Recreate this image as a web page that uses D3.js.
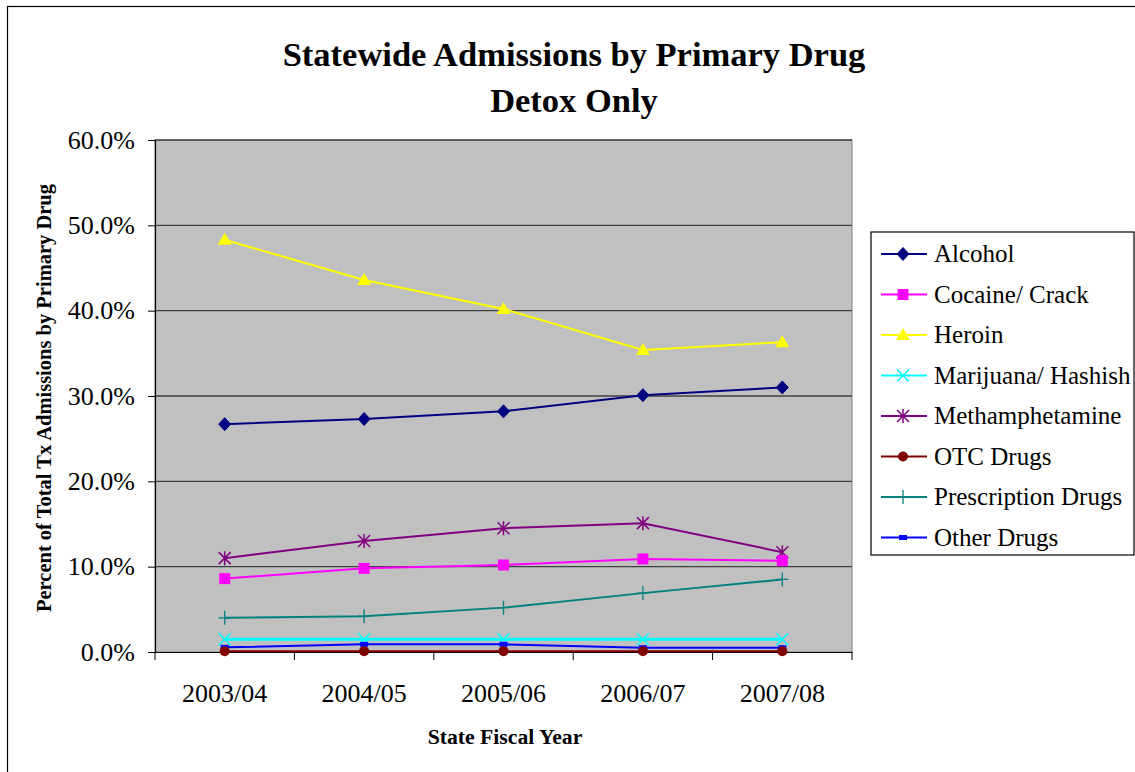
<!DOCTYPE html>
<html><head><meta charset="utf-8">
<script src="https://cdn.jsdelivr.net/npm/d3@7"></script>
<style>body{margin:0;background:#fff}svg text{font-family:"Liberation Serif","Times New Roman",serif}</style>
</head><body>
<svg id="c" width="1135" height="772"></svg>
<script>
const categories = ["2003/04","2004/05","2005/06","2006/07","2007/08"];
const seriesNames = ["Alcohol","Cocaine/ Crack","Heroin","Marijuana/ Hashish","Methamphetamine","OTC Drugs","Prescription Drugs","Other Drugs"];
const alcohol = [26.7,27.3,28.2,30.1,31.0];
const cocaine = [8.6,9.8,10.2,10.9,10.7];
const heroin = [48.3,43.6,40.2,35.4,36.3];
const marijuana = [1.5,1.5,1.5,1.5,1.5];
const meth = [11.0,13.0,14.5,15.1,11.7];
const otc = [0.1,0.1,0.1,0.1,0.1];
const prescription = [4.0,4.2,5.2,6.9,8.5];
const other = [0.55,0.9,0.9,0.5,0.5];
const yTicks = [0,10,20,30,40,50,60];

const seriesValues = [alcohol,cocaine,heroin,marijuana,meth,otc,prescription,other];
const colors = ["#000080","#FF00FF","#FFFF00","#00FFFF","#800080","#800000","#008080","#0000FF"];
const markers = ["diamond","square","triangle","x","star","circle","plus","dash"];

const svg = d3.select("#c");
svg.append("rect").attr("x",7.5).attr("y",6.5).attr("width",1140).attr("height",780).attr("fill","#fff").attr("stroke","#000").attr("stroke-width",1.2);

const L=155,R=852,T=140,B=652;
const x = d3.scaleBand().domain(categories).range([L,R]);
const y = d3.scaleLinear().domain([0,60]).range([B,T]);

svg.append("rect").attr("x",L).attr("y",T).attr("width",R-L).attr("height",B-T).attr("fill","#C0C0C0").attr("stroke","#808080").attr("stroke-width",1);

// gridlines
svg.append("g").selectAll("line").data(yTicks.filter(d=>d>0)).join("line")
 .attr("x1",L).attr("x2",R).attr("y1",d=>y(d)).attr("y2",d=>y(d)).attr("stroke","#404040").attr("stroke-width",1.3);

// y axis
const ya = svg.append("g").attr("transform",`translate(${L},0)`)
 .call(d3.axisLeft(y).tickValues(yTicks).tickFormat(d=>d.toFixed(1)+"%").tickSize(7).tickPadding(13));
ya.attr("font-family",null).attr("font-size",null);
ya.select(".domain").attr("stroke","#000").attr("stroke-width",1.2);
ya.selectAll(".tick line").attr("stroke","#000");
ya.selectAll("text").style("font-size","26px").attr("fill","#000");

// x axis
const xa = svg.append("g").attr("transform",`translate(0,${B})`)
 .call(d3.axisBottom(x).tickSize(0).tickPadding(31.5));
xa.attr("font-family",null).attr("font-size",null);
xa.select(".domain").attr("stroke","#000").attr("stroke-width",1.2);
xa.selectAll("text").style("font-size","26px").attr("fill","#000");
svg.append("g").selectAll("line").data(d3.range(categories.length+1)).join("line")
 .attr("x1",i=>L+i*x.step()).attr("x2",i=>L+i*x.step()).attr("y1",B).attr("y2",B+8).attr("stroke","#000");

function drawMarker(g,type,color){
  switch(type){
    case "diamond": g.append("path").attr("d","M0,-6.5L6,0L0,6.5L-6,0Z").attr("fill",color).attr("stroke",color); break;
    case "square": g.append("rect").attr("x",-5.5).attr("y",-5.5).attr("width",11).attr("height",11).attr("fill",color); break;
    case "triangle": g.append("path").attr("d","M0,-7L7,5L-7,5Z").attr("fill",color); break;
    case "x": g.append("path").attr("d","M-6,-6L6,6M-6,6L6,-6").attr("stroke",color).attr("stroke-width",1.5); break;
    case "star": g.append("path").attr("d","M-6,-6L6,6M-6,6L6,-6M0,-7L0,7").attr("stroke",color).attr("stroke-width",1.5); break;
    case "circle": g.append("circle").attr("r",5).attr("fill",color); break;
    case "plus": g.append("path").attr("d","M-6,0L6,0M0,-7L0,7").attr("stroke",color).attr("stroke-width",1.3); break;
    case "dash": g.append("rect").attr("x",-4).attr("y",-2.5).attr("width",8).attr("height",5).attr("fill",color); break;
  }
}

const line = d3.line().x((d,i)=>x(categories[i])+x.bandwidth()/2).y(d=>y(d));
const order=[6,4,1,3,7,5,0,2];
order.forEach(si=>{
  const vals=seriesValues[si];
  svg.append("path").datum(vals).attr("d",line).attr("fill","none").attr("stroke",colors[si]).attr("stroke-width",si===3?3:2);
  vals.forEach((v,i)=>{
    const g=svg.append("g").attr("transform",`translate(${x(categories[i])+x.bandwidth()/2},${y(v)})`);
    drawMarker(g,markers[si],colors[si]);
  });
});

// title
svg.append("text").attr("x",574).attr("y",66).attr("text-anchor","middle").style("font-size","34.5px").attr("font-weight","bold").text("Statewide Admissions by Primary Drug");
svg.append("text").attr("x",574).attr("y",112).attr("text-anchor","middle").style("font-size","34.5px").attr("font-weight","bold").text("Detox Only");

svg.append("text").attr("x",505).attr("y",744).attr("text-anchor","middle").style("font-size","21.7px").attr("font-weight","bold").text("State Fiscal Year");
svg.append("text").attr("transform","translate(51,398) rotate(-90)").attr("text-anchor","middle").style("font-size","20.5px").attr("font-weight","bold").text("Percent of Total Tx Admissions by Primary Drug");

// legend
svg.append("rect").attr("x",871).attr("y",232).attr("width",263).attr("height",323).attr("fill","#fff").attr("stroke","#000").attr("stroke-width",1.2);
seriesNames.forEach((n,i)=>{
  const ly=254+i*40.5;
  svg.append("line").attr("x1",881).attr("x2",927).attr("y1",ly).attr("y2",ly).attr("stroke",colors[i]).attr("stroke-width",2);
  drawMarker(svg.append("g").attr("transform",`translate(903,${ly})`),markers[i],colors[i]);
  svg.append("text").attr("x",934).attr("y",ly+8).style("font-size","25px").text(n);
});
</script>
</body></html>
